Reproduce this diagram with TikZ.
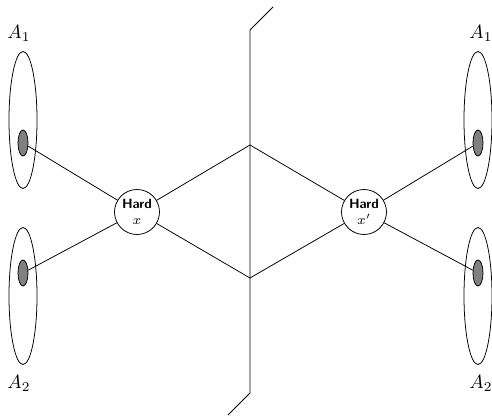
\documentclass[tikz,border=0pt]{standalone}
\usetikzlibrary{shapes.geometric}
\begin{document}
\begin{tikzpicture}[x=0.52pt,y=-0.52pt,
  outer/.style={draw,ellipse,minimum width=28*0.52pt,minimum height=137*0.52pt,inner sep=0pt},
  inner/.style={draw,ellipse,fill=gray,minimum width=10*0.52pt,minimum height=26*0.52pt,inner sep=0pt},
  hard/.style={draw,circle,minimum size=45*0.52pt,inner sep=0pt,align=center,font=\scriptsize,fill=white},
  lab/.style={inner sep=0pt}]
\useasboundingbox (0,0) rectangle (492,416);
% ellipses
\node[outer] (o1) at (23,120) {};
\node[inner] (i1) at (23,143) {};
\node[outer] (o2) at (23,296) {};
\node[inner] (i2) at (23,273) {};
\node[outer] (o3) at (478,120) {};
\node[inner] (i3) at (478,143) {};
\node[outer] (o4) at (478,296) {};
\node[inner] (i4) at (478,273) {};
% labels
\node[lab] (l1) at (19,33) {$A_1$};
\node[lab] (l2) at (19,383) {$A_2$};
\node[lab] (l3) at (481,33) {$A_1$};
\node[lab] (l4) at (481,383) {$A_2$};
% circles
\node[hard] (h1) at (137,212) {\textsf{\textbf{Hard}}\\[0.5pt]$x$};
\node[hard] (h2) at (364,212) {\textsf{\textbf{Hard}}\\[0.5pt]$x'$};
% skeleton coordinates
\coordinate (d1) at (250,145);
\coordinate (d2) at (250,278);
\coordinate (t1) at (273,7);
\coordinate (t2) at (250,30);
\coordinate (b2) at (250,393);
\coordinate (b1) at (228,415);
\draw (t1) -- (t2) -- (b2) -- (b1);
\draw (h1) -- (d1) -- (h2);
\draw (h1) -- (d2) -- (h2);
\draw (i1) -- (h1);
\draw (i2) -- (h1);
\draw (i3) -- (h2);
\draw (i4) -- (h2);
\end{tikzpicture}
\end{document}
